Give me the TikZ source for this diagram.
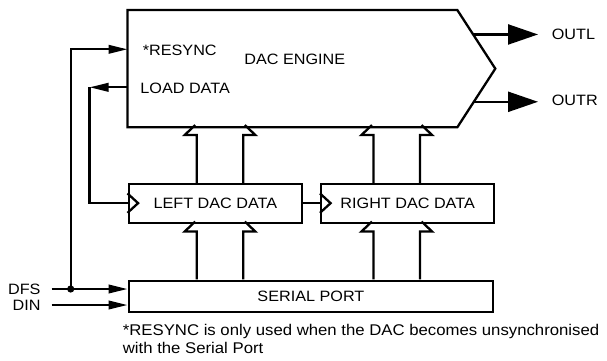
\documentclass[tikz,border=0pt]{standalone}
\usepackage{fontspec}
\setmainfont{Liberation Sans}[FakeStretch=1.08]
\usetikzlibrary{arrows.meta,calc}

\begin{document}
\begin{tikzpicture}[x=1pt,y=-1pt,line width=2.3pt,line join=miter,
  font=\fontsize{15}{18}\selectfont,
  block/.style={draw,line width=2.3pt,inner sep=0pt,anchor=north west},
  lbl/.style={inner sep=0pt,anchor=west},
  notetext/.style={inner sep=0pt,anchor=base west,font=\fontsize{15.5}{18}\selectfont},
  smallarrow/.style={-{Triangle[length=19pt,width=8.5pt]}},
  bigarrow/.style={-{Triangle[length=30pt,width=20pt]}},
  buspair/.pic={
    \draw (-23.3,57.8) -- (-23.3,10) -- (-35.3,10) -- (-24.8,0);
    \draw ( 23.3,57.8) -- ( 23.3,10) -- ( 35.3,10) -- ( 24.8,0);
  },
]
\useasboundingbox (0,0) rectangle (607,360);

% DAC engine: a box with a pointed right end
\node[inner sep=0pt,minimum width=365.5pt,minimum height=115pt,anchor=north west] (eng) at (127.5,10) {};
\coordinate (engne) at ($(eng.north east)+(-38,0)$);
\coordinate (engse) at ($(eng.south east)+(-38,0)$);
\draw (eng.north west) -- (engne) -- (eng.east) -- (engse) -- (eng.south west) -- cycle;

\node[lbl] (resync) at (141.7,50) {*RESYNC};
\node[lbl] (engtxt) at (243.3,59.5) {DAC ENGINE};
\node[lbl] (load) at (139.3,88.3) {LOAD DATA};

% data registers and serial port
\node[block,minimum width=173.5pt,minimum height=39pt] (left) at (127.5,182.5) {LEFT DAC DATA};
\node[block,minimum width=173pt,minimum height=39pt] (right) at (320,182.5) {RIGHT DAC DATA};
\node[block,minimum width=364.5pt,minimum height=31.5pt] (serial) at (127.5,279.5) {SERIAL PORT};

% clock inputs of the registers
\draw ($(left.west)+(0,-9.7)$) -- ++(10.6,9.7) -- ++(-10.6,9.7);
\draw ($(right.west)+(0,-9.7)$) -- ++(10.6,9.7) -- ++(-10.6,9.7);

% wide data paths
\pic at (220,125) {buspair};
\pic at (396.75,125) {buspair};
\pic at (220,221.5) {buspair};
\pic at (396.75,221.5) {buspair};

\draw (left.east) -- (right.west);

% outputs
\node[lbl] (outl) at (550.7,34) {OUTL};
\node[lbl] (outr) at (550.7,100) {OUTR};
\coordinate (pl) at ($(engne)!0.417!(eng.east)$);
\coordinate (pr) at ($(eng.east)!0.565!(engse)$);
\draw[bigarrow,shorten >=12.7pt] (pl) -- (pl -| outl.west);
\draw[bigarrow,shorten >=12.7pt] (pr) -- (pr -| outr.west);

% inputs
\node[inner sep=0pt,anchor=east] (dfs) at (41.7,289) {DFS};
\node[inner sep=0pt,anchor=east] (din) at (41.7,305) {DIN};
\draw[smallarrow,shorten <=10pt] (dfs.east) -- (dfs.east -| serial.west);
\draw[smallarrow,shorten <=10pt] (din.east) -- (din.east -| serial.west);

\coordinate (junc) at (70.7,289);
\fill (junc) circle (3.6pt);
\coordinate (rsin) at ($(eng.north west)+(0,39.3)$);
\draw[smallarrow] (junc) |- (rsin);

\coordinate (ldout) at ($(eng.north west)+(0,77.3)$);
\coordinate (ldturn) at (89.5,0 |- ldout);
\draw[smallarrow] (ldout) -- (ldturn);
\draw (ldturn) |- (left.west);

% footnote
\node[notetext] (note1) at (121.7,335.4) {*RESYNC is only used when the DAC becomes unsynchronised};
\node[notetext] (note2) at (121.7,353.7) {with the Serial Port};
\end{tikzpicture}
\end{document}
